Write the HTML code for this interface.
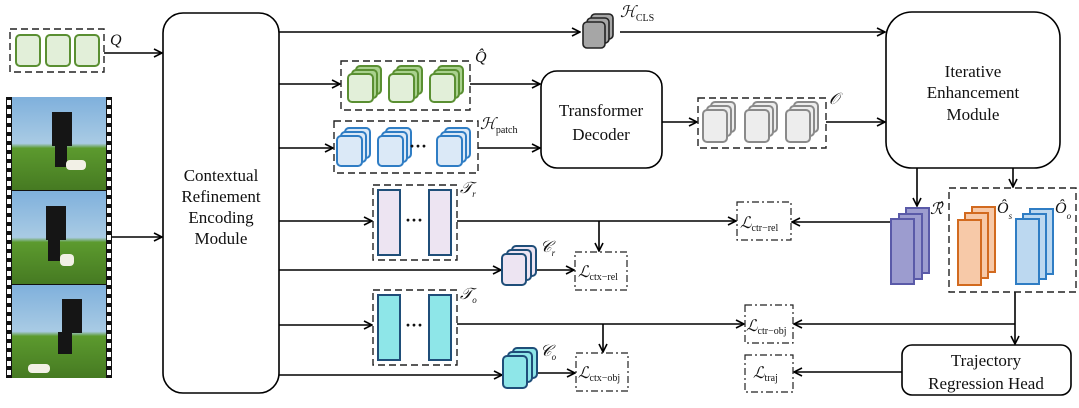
<!DOCTYPE html>
<html><head><style>body{margin:0;background:#fff}svg{display:block}text{font-family:"Liberation Serif",serif;fill:#111}</style></head><body>
<svg width="1079" height="408" viewBox="0 0 1079 408" xmlns="http://www.w3.org/2000/svg">
<defs>
<marker id="a" markerWidth="10" markerHeight="10" refX="9" refY="5" orient="auto" markerUnits="userSpaceOnUse"><path d="M1,1 L9,5 L1,9" fill="none" stroke="#000" stroke-width="1.6"/></marker>
<linearGradient id="ph" x1="0" y1="0" x2="0" y2="1"><stop offset="0" stop-color="#7fb0dc"/><stop offset="0.5" stop-color="#a9cbe4"/><stop offset="0.55" stop-color="#5c9a2e"/><stop offset="1" stop-color="#467a22"/></linearGradient>
</defs>
<g stroke="#000" stroke-width="1.6" fill="none">
<line x1="104" y1="53" x2="162" y2="53" marker-end="url(#a)"/>
<line x1="112" y1="237" x2="162" y2="237" marker-end="url(#a)"/>
<line x1="279" y1="32" x2="580" y2="32" marker-end="url(#a)"/>
<line x1="620" y1="32" x2="885" y2="32" marker-end="url(#a)"/>
<line x1="279" y1="84" x2="340" y2="84" marker-end="url(#a)"/>
<line x1="470" y1="84" x2="540" y2="84" marker-end="url(#a)"/>
<line x1="279" y1="148" x2="333" y2="148" marker-end="url(#a)"/>
<line x1="478" y1="148" x2="540" y2="148" marker-end="url(#a)"/>
<line x1="662" y1="122" x2="697" y2="122" marker-end="url(#a)"/>
<line x1="826" y1="122" x2="885" y2="122" marker-end="url(#a)"/>
<line x1="917" y1="168" x2="917" y2="206" marker-end="url(#a)"/>
<line x1="1013" y1="168" x2="1013" y2="187" marker-end="url(#a)"/>
<line x1="279" y1="221" x2="372" y2="221" marker-end="url(#a)"/>
<line x1="457" y1="221" x2="736" y2="221" marker-end="url(#a)"/>
<line x1="599" y1="221" x2="599" y2="251" marker-end="url(#a)"/>
<line x1="890" y1="222" x2="792" y2="222" marker-end="url(#a)"/>
<line x1="279" y1="270" x2="501" y2="270" marker-end="url(#a)"/>
<line x1="537" y1="270" x2="574" y2="270" marker-end="url(#a)"/>
<line x1="279" y1="325" x2="372" y2="325" marker-end="url(#a)"/>
<line x1="457" y1="324" x2="744" y2="324" marker-end="url(#a)"/>
<line x1="603" y1="324" x2="603" y2="352" marker-end="url(#a)"/>
<line x1="1015" y1="292" x2="1015" y2="344" marker-end="url(#a)"/>
<line x1="1015" y1="324" x2="794" y2="324" marker-end="url(#a)"/>
<line x1="279" y1="375" x2="502" y2="375" marker-end="url(#a)"/>
<line x1="538" y1="373" x2="575" y2="373" marker-end="url(#a)"/>
<line x1="902" y1="372" x2="794" y2="372" marker-end="url(#a)"/>
<rect x="163" y="13" width="116" height="380" rx="20"/>
<rect x="541" y="71" width="121" height="97" rx="16"/>
<rect x="886" y="12" width="174" height="156" rx="26"/>
<rect x="902" y="345" width="169" height="50" rx="10"/>
</g>
<g stroke="#222" stroke-width="1.4" fill="none" stroke-dasharray="7,4">
<rect x="10" y="29" width="94" height="43"/>
<rect x="341" y="61" width="129" height="49"/>
<rect x="334" y="121" width="144" height="52"/>
<rect x="698" y="98" width="128" height="50"/>
<rect x="373" y="185" width="84" height="75"/>
<rect x="373" y="290" width="84" height="75"/>
<rect x="949" y="188" width="127" height="104"/>
</g>
<g stroke="#222" stroke-width="1.2" fill="none" stroke-dasharray="7,3,2,3">
<rect x="737" y="202" width="54" height="38"/>
<rect x="575" y="252" width="52" height="38"/>
<rect x="745" y="305" width="48" height="38"/>
<rect x="576" y="353" width="52" height="38"/>
<rect x="745" y="355" width="48" height="37"/>
</g>
<g fill="#e2efd9" stroke="#5a8f32" stroke-width="2">
<rect x="16" y="35" width="24" height="31" rx="4"/><rect x="46" y="35" width="24" height="31" rx="4"/><rect x="75" y="35" width="24" height="31" rx="4"/>
</g>
<g fill="#e2efd9" stroke="#5a8f32" stroke-width="2">
<g id="g1"><rect x="356" y="66" width="25" height="28" rx="4" fill="#a9d18e"/><rect x="352" y="70" width="25" height="28" rx="4" fill="#a9d18e"/><rect x="348" y="74" width="25" height="28" rx="4"/></g>
<use href="#g1" x="41"/><use href="#g1" x="82"/>
</g>
<g fill="#dbe9f7" stroke="#2f7dc4" stroke-width="2">
<g id="g2"><rect x="345" y="128" width="25" height="30" rx="4"/><rect x="341" y="132" width="25" height="30" rx="4"/><rect x="337" y="136" width="25" height="30" rx="4"/></g>
<use href="#g2" x="41"/><use href="#g2" x="100"/>
</g>
<text x="418" y="152" font-size="18" font-weight="bold" text-anchor="middle">···</text>
<g fill="#ededed" stroke="#8a8a8a" stroke-width="2">
<g id="g3"><rect x="711" y="102" width="24" height="30" rx="4"/><rect x="707" y="106" width="24" height="30" rx="4"/><rect x="703" y="110" width="24" height="32" rx="4"/></g>
<use href="#g3" x="42"/><use href="#g3" x="83"/>
</g>
<g fill="#a6a6a6" stroke="#222" stroke-width="1.6">
<rect x="591" y="14" width="22" height="25" rx="4"/><rect x="587" y="18" width="22" height="25" rx="4"/><rect x="583" y="22" width="22" height="26" rx="4"/>
</g>
<g stroke="#1f4e79" stroke-width="2">
<rect x="378" y="190" width="22" height="65" fill="#ede4f2"/><rect x="429" y="190" width="22" height="65" fill="#ede4f2"/>
<rect x="378" y="295" width="22" height="65" fill="#8ee6e8"/><rect x="429" y="295" width="22" height="65" fill="#8ee6e8"/>
</g>
<text x="414" y="226" font-size="18" font-weight="bold" text-anchor="middle">···</text>
<text x="414" y="331" font-size="18" font-weight="bold" text-anchor="middle">···</text>
<g stroke="#1f4e79" stroke-width="2" fill="#ede4f2">
<rect x="512" y="246" width="24" height="30" rx="4"/><rect x="507" y="250" width="24" height="30" rx="4"/><rect x="502" y="254" width="24" height="31" rx="4"/>
</g>
<g stroke="#1f4e79" stroke-width="2" fill="#8ee6e8">
<rect x="513" y="348" width="24" height="30" rx="4"/><rect x="508" y="352" width="24" height="30" rx="4"/><rect x="503" y="356" width="24" height="32" rx="4"/>
</g>
<g stroke="#5a5aa8" stroke-width="2" fill="#9c9ccf">
<rect x="906" y="208" width="23" height="65"/><rect x="899" y="214" width="23" height="65"/><rect x="891" y="219" width="23" height="65"/>
</g>
<g stroke="#d26a1f" stroke-width="2" fill="#f7c9a8">
<rect x="972" y="207" width="23" height="65"/><rect x="965" y="213" width="23" height="65"/><rect x="958" y="220" width="23" height="65"/>
</g>
<g stroke="#2f7dc4" stroke-width="2" fill="#bcd8f0">
<rect x="1030" y="209" width="23" height="65"/><rect x="1023" y="214" width="23" height="65"/><rect x="1016" y="219" width="23" height="65"/>
</g>
<rect x="6" y="97" width="106" height="281" fill="#111"/>
<g fill="url(#ph)"><rect x="12" y="97" width="94" height="93"/><rect x="12" y="191" width="94" height="93"/><rect x="12" y="285" width="94" height="93"/></g>
<g fill="#151515"><rect x="52" y="112" width="20" height="34"/><rect x="55" y="145" width="12" height="22"/><rect x="46" y="206" width="20" height="34"/><rect x="48" y="239" width="12" height="22"/><rect x="62" y="299" width="20" height="34"/><rect x="58" y="332" width="14" height="22"/></g>
<g fill="#f2f0e6"><rect x="66" y="160" width="20" height="10" rx="4"/><rect x="60" y="254" width="14" height="12" rx="4"/><rect x="28" y="364" width="22" height="9" rx="4"/></g>
<g fill="#fff" id="sp">
<rect x="7" y="100" width="4" height="5"/><rect x="7" y="109" width="4" height="5"/><rect x="7" y="118" width="4" height="5"/><rect x="7" y="127" width="4" height="5"/><rect x="7" y="136" width="4" height="5"/><rect x="7" y="145" width="4" height="5"/><rect x="7" y="154" width="4" height="5"/><rect x="7" y="163" width="4" height="5"/><rect x="7" y="172" width="4" height="5"/><rect x="7" y="181" width="4" height="5"/><rect x="7" y="190" width="4" height="5"/><rect x="7" y="199" width="4" height="5"/><rect x="7" y="208" width="4" height="5"/><rect x="7" y="217" width="4" height="5"/><rect x="7" y="226" width="4" height="5"/><rect x="7" y="235" width="4" height="5"/><rect x="7" y="244" width="4" height="5"/><rect x="7" y="253" width="4" height="5"/><rect x="7" y="262" width="4" height="5"/><rect x="7" y="271" width="4" height="5"/><rect x="7" y="280" width="4" height="5"/><rect x="7" y="289" width="4" height="5"/><rect x="7" y="298" width="4" height="5"/><rect x="7" y="307" width="4" height="5"/><rect x="7" y="316" width="4" height="5"/><rect x="7" y="325" width="4" height="5"/><rect x="7" y="334" width="4" height="5"/><rect x="7" y="343" width="4" height="5"/><rect x="7" y="352" width="4" height="5"/><rect x="7" y="361" width="4" height="5"/><rect x="7" y="370" width="4" height="5"/>
</g>
<use href="#sp" x="100"/>
<g font-size="17" text-anchor="middle">
<text x="221" y="181">Contextual</text><text x="221" y="202">Refinement</text><text x="221" y="223">Encoding</text><text x="221" y="244">Module</text>
<text x="601" y="116">Transformer</text><text x="601" y="140">Decoder</text>
<text x="973" y="77">Iterative</text><text x="973" y="98">Enhancement</text><text x="973" y="120">Module</text>
<text x="986" y="366">Trajectory</text><text x="986" y="389">Regression Head</text>
</g>
<g font-style="italic" font-size="16">
<text x="110" y="45">Q</text>
<text x="475" y="62">Q̂</text>
<text x="480" y="129">ℋ<tspan font-size="10" font-style="normal" dy="4">patch</tspan></text>
<text x="620" y="17">ℋ<tspan font-size="10" font-style="normal" dy="4">CLS</tspan></text>
<text x="829" y="104">𝒪</text>
<text x="460" y="193">𝒯<tspan font-size="9" dy="4">r</tspan></text>
<text x="540" y="252">𝒞<tspan font-size="9" dy="4">r</tspan></text>
<text x="460" y="299">𝒯<tspan font-size="9" dy="4">o</tspan></text>
<text x="540" y="356">𝒞<tspan font-size="9" dy="4">o</tspan></text>
<text x="930" y="214">ℛ̂</text>
<text x="997" y="213">Ô<tspan font-size="9" dy="6">s</tspan></text>
<text x="1055" y="213">Ô<tspan font-size="9" dy="6">o</tspan></text>
<text x="740" y="228">ℒ<tspan font-size="10" font-style="normal" dy="3">ctr−rel</tspan></text>
<text x="578" y="277">ℒ<tspan font-size="10" font-style="normal" dy="3">ctx−rel</tspan></text>
<text x="746" y="331">ℒ<tspan font-size="10" font-style="normal" dy="3">ctr−obj</tspan></text>
<text x="578" y="378">ℒ<tspan font-size="10" font-style="normal" dy="3">ctx−obj</tspan></text>
<text x="753" y="378">ℒ<tspan font-size="10" font-style="normal" dy="3">traj</tspan></text>
</g>
</svg>
</body></html>
